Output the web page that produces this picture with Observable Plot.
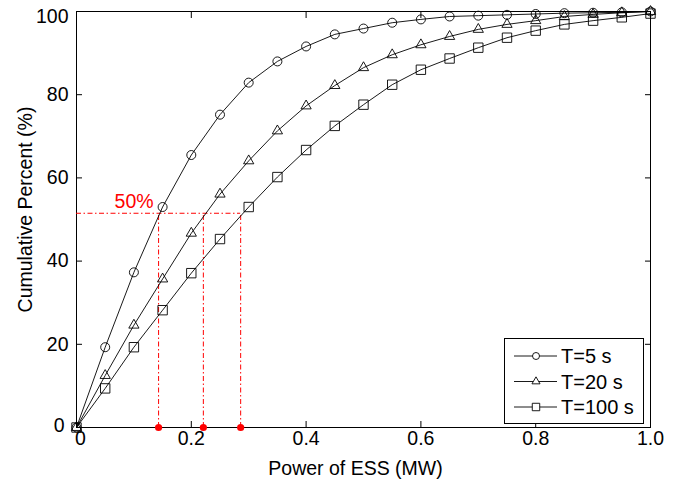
<!DOCTYPE html>
<html>
<head>
<meta charset="utf-8">
<script src="https://cdn.jsdelivr.net/npm/d3@7"></script>
<script src="https://cdn.jsdelivr.net/npm/@observablehq/plot@0.6"></script>
<style>
  html, body { margin: 0; padding: 0; background: white; }
  #wrap { position: relative; width: 678px; height: 484px; font-family: "Liberation Sans", Arial, sans-serif; }
  #legend { position: absolute; left: 504px; top: 338px; width: 138px; height: 84px; border: 1px solid black; background: white; }
</style>
</head>
<body>
<div id="wrap"><div id="legend"></div></div>
<script>
// ---- data ----
const power = [0, 0.05, 0.10, 0.15, 0.20, 0.25, 0.30, 0.35, 0.40, 0.45, 0.50, 0.55, 0.60, 0.65, 0.70, 0.75, 0.80, 0.85, 0.90, 0.95, 1.00];
const t5   = [0, 19.3, 37.3, 53.0, 65.5, 75.2, 82.9, 88.0, 91.6, 94.5, 95.9, 97.3, 98.1, 98.8, 99.0, 99.2, 99.4, 99.6, 99.7, 99.8, 100];
const t20  = [0, 12.5, 24.6, 35.7, 46.7, 56.1, 64.1, 71.3, 77.3, 82.2, 86.5, 89.6, 92.0, 94.0, 95.7, 96.9, 97.8, 98.8, 99.3, 99.7, 100];
const t100 = [0, 9.4, 19.3, 28.2, 37.1, 45.3, 53.0, 60.2, 66.7, 72.5, 77.6, 82.4, 86.0, 88.7, 91.3, 93.7, 95.4, 96.9, 97.8, 98.6, 99.5];
const seriesNames = ["T=5 s", "T=20 s", "T=100 s"];
const seriesSymbols = ["circle", "triangle", "square"];
const refPercent = 51.5;
const refPower = [0.143, 0.221, 0.286];
const refLabel = "50%";
const xTicks = [0, 0.2, 0.4, 0.6, 0.8, 1.0];
const yTicks = [0, 20, 40, 60, 80, 100];
const xTitle = "Power of ESS (MW)";
const yTitle = "Cumulative Percent (%)";

const seriesValues = [t5, t20, t100];
const markerR = [4.5, 3.8, 5.3];
const tables = seriesValues.map((vals, i) => power.map((p, j) => ({x: p, y: vals[j], s: seriesNames[i]})));

const dash = "5,2.5,1.5,2.5";
const fs = 19.5;
const xFmt = d => d === 0 ? "0" : d.toFixed(1);
const yMax = d3.max(yTicks), yMin = d3.min(yTicks), xMin = d3.min(xTicks);

const marks = [
  Plot.frame({stroke: "black", strokeWidth: 1}),
  Plot.axisX(xTicks, {anchor: "bottom", tickSize: -6, tickFormat: () => "", label: null}),
  Plot.axisX(xTicks, {anchor: "top", tickSize: -6, tickFormat: () => "", label: null}),
  Plot.axisY(yTicks, {anchor: "left", tickSize: -6, tickFormat: () => "", label: null}),
  Plot.axisY(yTicks, {anchor: "right", tickSize: -6, tickFormat: () => "", label: null}),
  // tick labels
  Plot.axisX(xTicks.filter(d => d !== xMin), {anchor: "bottom", tickSize: 0, tickPadding: 4, fontSize: fs, tickFormat: xFmt, label: null}),
  Plot.axisX([xMin], {anchor: "bottom", tickSize: 0, tickPadding: 4, dx: 4, fontSize: fs, tickFormat: xFmt, label: null}),
  Plot.axisY(yTicks.filter(d => d !== yMax && d !== yMin), {anchor: "left", tickSize: 0, tickPadding: 8, fontSize: fs, tickFormat: d => String(d), label: null}),
  Plot.axisY([yMax], {anchor: "left", tickSize: 0, tickPadding: 8, dy: 5, fontSize: fs, tickFormat: d => String(d), label: null}),
  Plot.axisY([yMin], {anchor: "left", tickSize: 0, tickPadding: 12, dy: -2, fontSize: fs, tickFormat: d => String(d), label: null}),
  Plot.text([xTitle], {frameAnchor: "bottom", textAnchor: "middle", lineAnchor: "middle", dy: 41, dx: -8, fontSize: fs, fill: "black"}),
  Plot.text([yTitle], {frameAnchor: "left", textAnchor: "middle", lineAnchor: "middle", dx: -51, dy: -10, rotate: -90, fontSize: fs, fill: "black"}),
  // reference lines
  Plot.ruleY([refPercent], {x1: 0, x2: d3.max(refPower), stroke: "red", strokeWidth: 1, strokeDasharray: dash}),
  Plot.ruleX(refPower, {y1: 0, y2: refPercent, stroke: "red", strokeWidth: 1, strokeDasharray: dash}),
  Plot.text([refLabel], {x: refPower[0], y: refPercent, textAnchor: "end", dx: -5, dy: -12, fill: "red", fontSize: fs}),
];
tables.forEach((t, i) => {
  marks.push(Plot.line(t, {x: "x", y: "y", stroke: "black", strokeWidth: 0.9}));
  marks.push(Plot.dot(t, {x: "x", y: "y", symbol: seriesSymbols[i], r: markerR[i], stroke: "black", strokeWidth: 0.9, fill: "none"}));
});
marks.push(Plot.dot(refPower, {x: d => d, y: 0, r: 3.6, fill: "red", stroke: "none"}));

const chart = Plot.plot({
  width: 678, height: 484,
  marginLeft: 76, marginRight: 28, marginTop: 11, marginBottom: 57,
  style: {fontFamily: "'Liberation Sans', Arial, sans-serif", fontSize: fs + "px", background: "white", color: "black", overflow: "visible"},
  x: {domain: [0, 1]},
  y: {domain: [0, 100]},
  marks
});
const wrap = document.getElementById("wrap");
wrap.insertBefore(chart, wrap.firstChild);

// legend
const leg = d3.select("#legend");
const svg = leg.append("svg").attr("width", 138).attr("height", 84).style("display", "block");
const legR = [3.5, 3.0, 4.2];
seriesNames.forEach((name, i) => {
  const cy = 17 + i * 25.5;
  const g = svg.append("g");
  g.append("line").attr("x1", 9).attr("x2", 52).attr("y1", cy).attr("y2", cy).attr("stroke", "black").attr("stroke-width", 0.9);
  const sym = {circle: d3.symbolCircle, triangle: d3.symbolTriangle, square: d3.symbolSquare}[seriesSymbols[i]];
  g.append("path").attr("transform", `translate(31,${cy})`)
    .attr("d", d3.symbol(sym, Math.PI * legR[i] * legR[i])())
    .attr("fill", "white").attr("stroke", "black").attr("stroke-width", 0.9);
  g.append("text").attr("x", 56).attr("y", cy).attr("dy", "0.35em")
    .attr("font-size", 20).attr("font-family", "'Liberation Sans', Arial, sans-serif").text(name);
});
</script>
</body>
</html>
